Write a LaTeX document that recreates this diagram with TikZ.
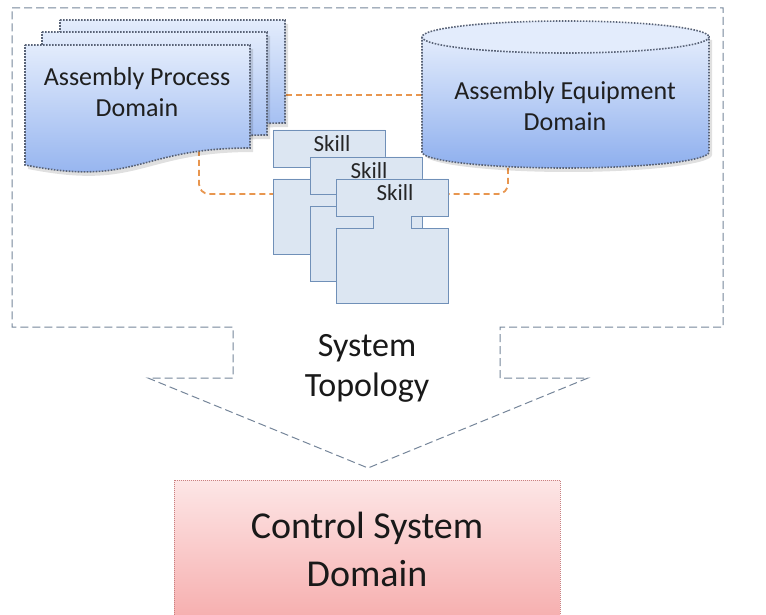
\documentclass[tikz,border=0pt]{standalone}
\usepackage{fontspec}
\setmainfont{Carlito}
\usetikzlibrary{calc}
\definecolor{docTop}{HTML}{E3ECFC}
\definecolor{docBot}{HTML}{8EAFEE}
\definecolor{dotline}{HTML}{596377}
\definecolor{outlinec}{HTML}{76869A}
\definecolor{orangec}{HTML}{E8964F}
\definecolor{skillfill}{HTML}{DCE6F2}
\definecolor{skillline}{HTML}{7090B8}
\definecolor{ctrlTop}{HTML}{FDE6E6}
\definecolor{ctrlBot}{HTML}{F5A6A6}
\definecolor{ctrlline}{HTML}{C98080}
\tikzset{
  docpath/.style={draw=dotline, line width=1.6pt, dash pattern=on 1.6pt off 1.4pt, top color=docTop, bottom color=docBot},
  shadowfill/.style={fill=black, fill opacity=0.12},
  outlinepath/.style={draw=outlinec, line width=1pt, dash pattern=on 8pt off 4pt},
  orangeconn/.style={draw=orangec, line width=1.8pt, dash pattern=on 6pt off 4pt, rounded corners=10pt},
  skillpath/.style={draw=skillline, line width=0.8pt, fill=skillfill},
  skilltext/.style={font=\fontsize{23}{26}\selectfont, text=black!85},
  domtext/.style={font=\fontsize{26}{31}\selectfont, align=center, text=black!88},
}
\newcommand\docshape[2]{%
  \begin{scope}[shift={(#1,#2)}]
    \fill[shadowfill] (3,4) -- (228,4) -- (228,107) .. controls (115.5,107) and (115.5,146.3) .. (3,124) -- cycle;
    \path[docpath] (0,0) -- (225,0) -- (225,103) .. controls (112.5,103) and (112.5,142.3) .. (0,120) -- cycle;
  \end{scope}}
\newcommand\skillshape[3]{%
  \begin{scope}[shift={(#1,#2)}]
    \path[skillpath] (0,0) -- (112,0) -- (112,37) -- (75,37) -- (75,49) -- (112,49) -- (112,124) -- (0,124) -- (0,49) -- (37,49) -- (37,37) -- (0,37) -- cycle;
    \node[skilltext] (#3) at (59,14) {Skill};
  \end{scope}}
\begin{document}
\begin{tikzpicture}[x=1pt,y=-1pt]
\useasboundingbox (0,0) rectangle (766,615);
\fill[white] (0,0) rectangle (766,615);

% outer dashed arrow outline
\path[outlinepath] (12,8) -- (723,8) -- (723,327) -- (500,327) -- (500,378) -- (588,378) -- (368,468) -- (148,378) -- (233,378) -- (233,327) -- (12,327) -- cycle;
\node[font=\fontsize{34}{40}\selectfont, align=center, text=black!90] (topo) at (367,368) {System\\Topology};

% connector end points
\coordinate (docR) at (286,95);
\coordinate (cylL) at (422,95);
\coordinate (docB) at (199,150);
\coordinate (sk1L) at (273,194);
\coordinate (cylB) at (508,168);
\coordinate (sk3R) at (448,194);
\path[orangeconn] (docR) -- (cylL);
\path[orangeconn] (docB) |- (sk1L);
\path[orangeconn] (cylB) |- (sk3R);

% Assembly process document stack
\docshape{60}{20}
\docshape{42}{32}
\docshape{25}{45}
\node[domtext] (apd) at (137,92) {Assembly Process\\Domain};

% cylinder
\fill[shadowfill] (425,40) -- (425,155) .. controls (425,164) and (489,172) .. (568.5,172) .. controls (648,172) and (712,164) .. (712,155) -- (712,40) -- cycle;
\path[docpath] (422,37) -- (422,152) .. controls (422,160.8) and (486.3,168) .. (565.5,168) .. controls (644.7,168) and (709,160.8) .. (709,152) -- (709,37) -- cycle;
\path[draw=dotline, line width=1.6pt, dash pattern=on 1.6pt off 1.4pt, fill=docTop] (565.5,37) ellipse [x radius=143.5, y radius=16];
\node[domtext] (aed) at (565,106) {Assembly Equipment\\Domain};

% skills
\skillshape{273}{130}{skillA}
\skillshape{310}{157}{skillB}
\skillshape{336}{179}{skillC}

% control system domain
\path[draw=ctrlline, line width=0.6pt, dash pattern=on 1pt off 1pt, top color=ctrlTop, bottom color=ctrlBot] (174,480) rectangle (560,640);
\node[font=\fontsize{38}{48}\selectfont, align=center, text=black!90] (csd) at (367,549) {Control System\\Domain};
\end{tikzpicture}
\end{document}
